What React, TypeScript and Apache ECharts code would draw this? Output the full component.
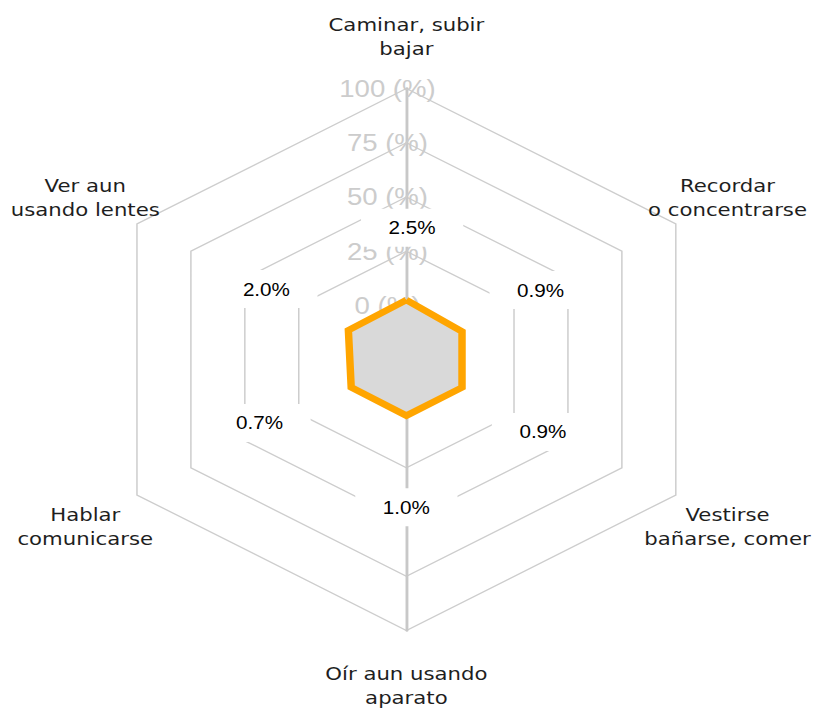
import React, { useEffect, useRef } from 'react';
import * as echarts from 'echarts';

// Indicators, counter-clockwise from the top (ECharts radar order)
const INDICATORS: string[] = [
  'Caminar, subir\nbajar',
  'Ver aun\nusando lentes',
  'Hablar\ncomunicarse',
  'Oír aun usando\naparato',
  'Vestirse\nbañarse, comer',
  'Recordar\no concentrarse',
];
const VALUES: number[] = [2.5, 2.0, 0.7, 1.0, 0.9, 0.9];
const AXIS_MIN = 0;
const AXIS_MAX = 100;
const SPLIT_NUMBER = 4;
const TICK_SUFFIX = ' (%)';

// ---- layout helpers (not data) ----
// Radial axis value where the value labels are anchored
const LABEL_ANCHOR = 40;
// small per-label nudges [dx, dy] in px
const LABEL_NUDGE: [number, number][] = [
  [5, 9],
  [0, 0],
  [-6, -7],
  [0, 7],
  [-3, 2],
  [-5, 1],
];
// vertical nudge of indicator names (px, down)
const NAME_NUDGE: number[] = [0, 0, 6, 3, 6, 0];
const STRETCH_X = 1.148;

const NAME_FONT = {
  color: '#1e1e1e',
  fontFamily: 'DejaVu Sans',
  fontSize: 18.5,
  lineHeight: 24,
};

function buildLabelRich() {
  const rich: Record<string, any> = {
    b: {
      color: '#000000',
      fontFamily: 'Liberation Sans',
      fontSize: 18,
      backgroundColor: '#ffffff',
      padding: [10, 24],
    },
  };
  LABEL_NUDGE.forEach(([dx, dy], i) => {
    rich['l' + i] = { width: Math.max(0, 2 * dx), height: 1, fontSize: 1, lineHeight: 1 };
    rich['r' + i] = { width: Math.max(0, -2 * dx), height: 1, fontSize: 1, lineHeight: 1 };
    rich['t' + i] = { height: Math.max(0, 2 * dy), lineHeight: Math.max(0, 2 * dy), fontSize: 1 };
    rich['u' + i] = { height: Math.max(0, -2 * dy), lineHeight: Math.max(0, -2 * dy), fontSize: 1 };
  });
  return rich;
}

function buildNameRich() {
  const rich: Record<string, any> = { n: { ...NAME_FONT } };
  NAME_NUDGE.forEach((d, i) => {
    rich['s' + i] = { height: Math.max(0, 2 * d), lineHeight: Math.max(0, 2 * d), fontSize: 1 };
  });
  return rich;
}

export default function App() {
  const ref = useRef<HTMLDivElement>(null);
  useEffect(() => {
    if (!ref.current) return;
    const chart = echarts.init(ref.current, null, { renderer: 'svg' });
    chart.setOption({
      animation: false,
      backgroundColor: '#ffffff',
      radar: {
        center: [354, 359.5],
        radius: [54, 271],
        startAngle: 90,
        splitNumber: SPLIT_NUMBER,
        shape: 'polygon',
        nameGap: 52,
        axisName: {
          ...NAME_FONT,
          align: 'center',
          verticalAlign: 'middle',
          rich: buildNameRich(),
          formatter: (value: string) => {
            const i = INDICATORS.indexOf(value);
            const d = i >= 0 ? NAME_NUDGE[i] : 0;
            const body = value
              .split('\n')
              .map((l) => `{n|${l}}`)
              .join('\n');
            return d > 0 ? `{s${i}| }\n${body}` : body;
          },
        },
        indicator: INDICATORS.map((name, i) => ({
          name,
          min: AXIS_MIN,
          max: AXIS_MAX,
          axisLine: { show: i === 0 || i === 3 },
          axisLabel: { show: i === 0 },
        })),
        axisLine: { show: true, lineStyle: { color: '#c8c8c8', width: 2.5 } },
        axisTick: { show: false },
        axisLabel: {
          show: true,
          color: '#cccccc',
          fontSize: 24,
          fontFamily: 'Liberation Sans',
          margin: 0,
          align: 'center',
          verticalAlign: 'middle',
          padding: [0, 33, 2, 0],
          formatter: (v: number) => `${v}${TICK_SUFFIX}`,
        },
        splitLine: { show: true, lineStyle: { color: '#cdcdcd', width: 1.3 } },
        splitArea: { show: false },
      },
      series: [
        {
          // filled area
          type: 'radar',
          silent: true,
          symbol: 'none',
          lineStyle: { width: 0, opacity: 0 },
          areaStyle: { color: '#d9d9d9', opacity: 1 },
          data: [{ value: VALUES }],
        },
        {
          // orange outline on top of the area
          type: 'radar',
          silent: true,
          symbol: 'none',
          lineStyle: { color: '#FFA500', width: 6.5, join: 'miter' },
          data: [{ value: VALUES }],
        },
        {
          // value labels
          type: 'radar',
          silent: true,
          symbol: 'circle',
          symbolSize: 0,
          itemStyle: { color: 'rgba(0,0,0,0)', borderWidth: 0 },
          lineStyle: { width: 0, opacity: 0 },
          data: [
            {
              value: VALUES.map(() => LABEL_ANCHOR),
              label: {
                show: true,
                position: 'inside',
                align: 'center',
                verticalAlign: 'middle',
                rich: buildLabelRich(),
                formatter: (p: any) => {
                  const i = p.dimensionIndex;
                  if (i == null) return '';
                  const [dx, dy] = LABEL_NUDGE[i];
                  let line = `{b|${VALUES[i].toFixed(1)}%}`;
                  if (dx > 0) line = `{l${i}| }` + line;
                  if (dx < 0) line = line + `{r${i}| }`;
                  if (dy > 0) line = `{t${i}| }\n` + line;
                  if (dy < 0) line = line + `\n{u${i}| }`;
                  return line;
                },
              },
            },
          ],
        },
      ],
    });
    return () => chart.dispose();
  }, []);
  return (
    <div
      ref={ref}
      style={{
        position: 'fixed',
        left: 0,
        top: 0,
        width: 710,
        height: 709,
        transform: `scaleX(${STRETCH_X})`,
        transformOrigin: '0 0',
        background: '#fff',
      }}
    />
  );
}
